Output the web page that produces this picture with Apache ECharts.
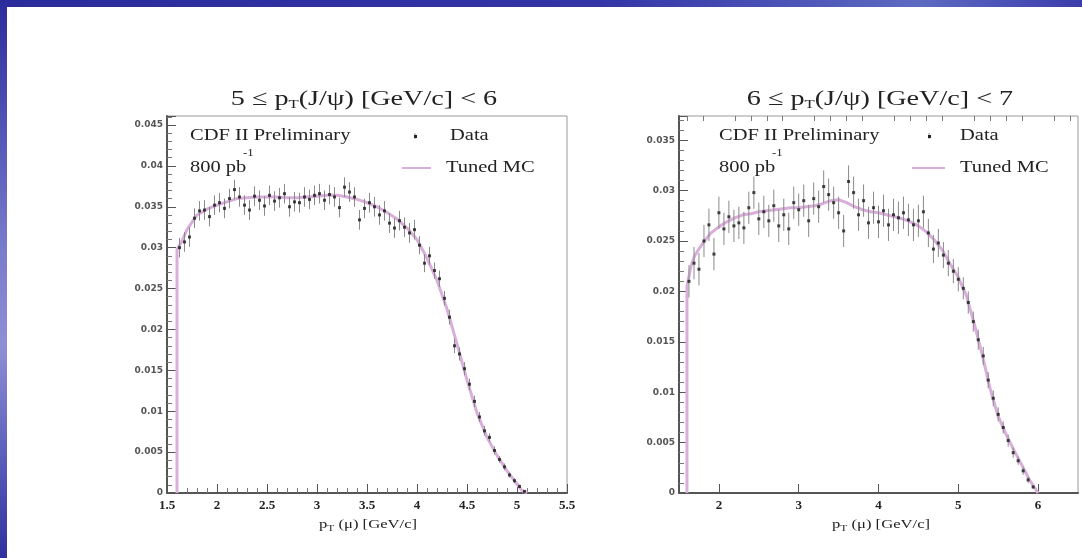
<!DOCTYPE html>
<html><head><meta charset="utf-8">
<script src="https://cdn.jsdelivr.net/npm/echarts@6/dist/echarts.min.js"></script>
<style>html,body{margin:0;padding:0;background:#fff}#c{width:1082px;height:558px}</style>
</head><body><div id="c"></div>
<script>
// ---------- data ----------
const panelTitles = ['{a|5 ≤ p}{s|T}{a|(J/ψ) [GeV/c] < 6}', '{a|6 ≤ p}{s|T}{a|(J/ψ) [GeV/c] < 7}'];
const xTitle = '{a|p}{s|T}{a| (μ) [GeV/c]}';
const legendTexts = ['CDF II Preliminary', '800 pb', '-1', 'Data', 'Tuned MC'];

const leftDataX = [1.625,1.675,1.725,1.775,1.825,1.875,1.925,1.975,2.025,2.075,2.125,2.175,2.225,2.275,2.325,2.375,2.425,2.475,2.525,2.575,2.625,2.675,2.725,2.775,2.825,2.875,2.925,2.975,3.025,3.075,3.125,3.175,3.225,3.275,3.325,3.375,3.425,3.475,3.525,3.575,3.625,3.675,3.725,3.775,3.825,3.875,3.925,3.975,4.025,4.075,4.125,4.175,4.225,4.275,4.325,4.375,4.425,4.475,4.525,4.575,4.625,4.675,4.725,4.775,4.825,4.875,4.925,4.975,5.025,5.075];
const leftDataY = [0.0300,0.0307,0.0313,0.0336,0.0345,0.0346,0.0338,0.0352,0.0355,0.0348,
 0.0360,0.0371,0.0362,0.0352,0.0346,0.0363,0.0358,0.0351,0.0364,0.0357,
 0.0361,0.0366,0.0350,0.0356,0.0355,0.0362,0.0359,0.0364,0.0366,0.0358,
 0.0365,0.0362,0.0349,0.0374,0.0368,0.0362,0.0334,0.0348,0.0355,0.0350,
 0.0340,0.0345,0.0330,0.0324,0.0333,0.0325,0.0318,0.0322,0.0303,0.0281,
 0.0290,0.0272,0.0262,0.0238,0.0215,0.0180,0.0170,0.0152,0.0133,0.0112,
 0.0093,0.0076,0.0068,0.0052,0.0041,0.0032,0.0022,0.0015,0.0008,0.0002];
const leftDataErr = [0.0012,0.0012,0.0012,0.0012,0.0012,0.0012,0.0012,0.0012,0.0012,0.0012,
 0.0012,0.0012,0.0012,0.0012,0.0012,0.0012,0.0012,0.0012,0.0012,0.0012,
 0.0012,0.0012,0.0012,0.0012,0.0012,0.0012,0.0012,0.0012,0.0012,0.0012,
 0.0012,0.0012,0.0012,0.0012,0.0012,0.0012,0.0012,0.0012,0.0012,0.0012,
 0.0012,0.0012,0.0012,0.0012,0.0012,0.0012,0.0012,0.0012,0.0011,0.0011,
 0.0011,0.0010,0.0010,0.0009,0.0009,0.0009,0.0008,0.0008,0.0007,0.0007,
 0.0006,0.0006,0.0005,0.0005,0.0004,0.0004,0.0003,0.0003,0.0002,0.0001];
const leftMcX = [1.6,1.6,1.65,1.7,1.8,1.9,2.0,2.1,2.2,2.3,2.4,2.5,2.6,2.7,2.8,2.9,3.0,3.1,3.2,3.3,3.4,3.5,3.6,3.7,3.8,3.9,4.0,4.1,4.2,4.3,4.4,4.5,4.6,4.7,4.8,4.9,5.0,5.05,5.1];
const leftMcY = [0,0.0298,0.0308,0.0322,0.0340,0.0347,0.0352,0.0356,0.0360,0.0361,0.0362,0.0362,0.0362,0.0361,0.0361,0.0362,0.0363,0.0364,0.0364,0.0362,0.0359,0.0355,0.0350,0.0343,0.0335,0.0324,0.0310,0.0287,0.0260,0.0225,0.0182,0.0138,0.0098,0.0068,0.0046,0.0027,0.0011,0.0003,0];

const rightDataX = [1.625,1.688,1.75,1.813,1.875,1.938,2.0,2.063,2.125,2.188,2.25,2.313,2.375,2.438,2.5,2.563,2.625,2.688,2.75,2.813,2.875,2.938,3.0,3.063,3.125,3.188,3.25,3.313,3.375,3.438,3.5,3.563,3.625,3.688,3.75,3.813,3.875,3.938,4.0,4.063,4.125,4.188,4.25,4.313,4.375,4.438,4.5,4.563,4.625,4.688,4.75,4.813,4.875,4.938,5.0,5.063,5.125,5.188,5.25,5.313,5.375,5.438,5.5,5.563,5.625,5.688,5.75,5.813,5.875,5.938];
const rightDataY = [0.0210,0.0228,0.0222,0.0250,0.0266,0.0237,0.0278,0.0262,0.0274,0.0265,
 0.0268,0.0263,0.0283,0.0298,0.0272,0.0279,0.0270,0.0285,0.0265,0.0276,
 0.0262,0.0288,0.0281,0.0290,0.0270,0.0292,0.0284,0.0304,0.0296,0.0288,
 0.0278,0.0260,0.0309,0.0298,0.0276,0.0290,0.0268,0.0283,0.0269,0.0280,
 0.0266,0.0276,0.0273,0.0278,0.0271,0.0266,0.0270,0.0279,0.0258,0.0242,
 0.0248,0.0236,0.0228,0.0220,0.0212,0.0203,0.0189,0.0170,0.0152,0.0136,
 0.0112,0.0094,0.0078,0.0065,0.0052,0.0040,0.0032,0.0022,0.0013,0.0006];
const rightDataErr = [0.0016,0.0016,0.0016,0.0016,0.0016,0.0016,0.0016,0.0016,0.0016,0.0016,
 0.0016,0.0016,0.0016,0.0016,0.0016,0.0016,0.0016,0.0016,0.0016,0.0016,
 0.0016,0.0016,0.0016,0.0016,0.0016,0.0016,0.0016,0.0016,0.0016,0.0016,
 0.0016,0.0016,0.0016,0.0016,0.0016,0.0016,0.0016,0.0016,0.0016,0.0016,
 0.0016,0.0016,0.0016,0.0016,0.0016,0.0016,0.0016,0.0016,0.0014,0.0014,
 0.0014,0.0013,0.0013,0.0012,0.0012,0.0011,0.0011,0.0010,0.0010,0.0009,
 0.0008,0.0008,0.0007,0.0006,0.0006,0.0005,0.0004,0.0004,0.0003,0.0002];
const rightMcX = [1.6,1.6,1.65,1.7,1.8,1.9,2.0,2.1,2.2,2.3,2.4,2.5,2.6,2.7,2.8,2.9,3.0,3.1,3.2,3.3,3.4,3.5,3.6,3.7,3.8,3.9,4.0,4.1,4.2,4.3,4.4,4.5,4.6,4.7,4.8,4.9,5.0,5.1,5.2,5.3,5.4,5.5,5.6,5.7,5.8,5.9,6.0];
const rightMcY = [0,0.0205,0.0225,0.0236,0.0248,0.0258,0.0264,0.0269,0.0273,0.0276,0.0277,0.0279,0.0280,0.0281,0.0282,0.0283,0.0283,0.0284,0.0285,0.0287,0.0290,0.0291,0.0288,0.0284,0.0281,0.0279,0.0278,0.0276,0.0274,0.0272,0.0269,0.0265,0.0259,0.0251,0.0241,0.0227,0.0214,0.0196,0.0168,0.0137,0.0103,0.0076,0.0058,0.0042,0.0027,0.0012,0];

const rightXMajor = [2,3,4,5,6];
const rightXMinor = [1.6,1.8,2.2,2.4,2.6,2.8,3.2,3.4,3.6,3.8,4.2,4.4,4.6,4.8,5.2,5.4,5.6,5.8,6.2,6.4];

// ---------- styling ----------
const SERIF = "'Liberation Serif', 'DejaVu Serif', serif";
const AX = '#555';
const MC_COLOR = '#d9aedb';
const STRETCH = 1.28;

function yAxisCfg(grid, max) {
  return {
    type: 'value', gridIndex: grid, min: 0, max: max, interval: 0.005,
    axisLine: {show: true, lineStyle: {color: AX, width: 2}},
    axisTick: {show: true, inside: true, length: 9, lineStyle: {color: AX, width: 1}},
    minorTick: {show: true, splitNumber: 5, length: 5, lineStyle: {color: '#777'}},
    splitLine: {show: false},
    axisLabel: {fontSize: 9, fontWeight: 'bold', color: '#555', margin: 4, fontFamily: 'DejaVu Sans',
      showMaxLabel: false,
      formatter: v => String(parseFloat(Number(v).toFixed(4)))}
  };
}
const xLabel = {fontSize: 13, color: '#222', margin: 6, fontFamily: SERIF, fontWeight: 'bold'};

function errSeries(xi, yi, xs, ys, es) {
  return {
    type: 'custom', xAxisIndex: xi, yAxisIndex: yi, z: 3,
    data: xs.map((x, i) => [x, ys[i] - es[i], ys[i] + es[i]]),
    renderItem: (params, api) => {
      const a = api.coord([api.value(0), api.value(1)]);
      const b = api.coord([api.value(0), api.value(2)]);
      return {type: 'line', shape: {x1: a[0], y1: a[1], x2: b[0], y2: b[1]},
        style: {stroke: '#8a8a8a', lineWidth: 1}};
    }
  };
}
function dotSeries(xi, yi, xs, ys) {
  return {type: 'scatter', xAxisIndex: xi, yAxisIndex: yi, z: 4, symbol: 'rect', symbolSize: 3,
    itemStyle: {color: '#1a1a1a'}, data: xs.map((x, i) => [x, ys[i]])};
}
function mcSeries(xi, yi, xs, ys) {
  return {type: 'line', xAxisIndex: xi, yAxisIndex: yi, z: 2, showSymbol: false, symbol: 'none',
    lineStyle: {color: MC_COLOR, width: 3}, data: xs.map((x, i) => [x, ys[i]])};
}

function txt(x, y, text, size, align, extra) {
  return Object.assign({
    type: 'text', x: x, y: y, scaleX: STRETCH, z: 10,
    style: {text: text, font: size + 'px ' + SERIF, fill: '#222', align: align || 'left', verticalAlign: 'middle'}
  }, extra || {});
}
function richTxt(x, y, text, size, subSize) {
  return {
    type: 'text', x: x, y: y, scaleX: STRETCH, z: 10,
    style: {text: text, align: 'center', verticalAlign: 'middle', fill: '#222',
      rich: {a: {fontFamily: SERIF, fontSize: size, fill: '#222'},
             s: {fontFamily: SERIF, fontSize: subSize, fill: '#222', padding: [Math.round(size*0.55), 0, 0, 0]}}}
  };
}

const graphics = [
  {type: 'rect', shape: {x: 0, y: 0, width: 1082, height: 7}, z: 0,
    style: {fill: new echarts.graphic.LinearGradient(0, 0, 1, 0, [
      {offset: 0, color: '#2b2b9c'}, {offset: 0.55, color: '#3434a6'}, {offset: 0.85, color: '#5d6ac2'}, {offset: 1, color: '#3c3cab'}])}},
  {type: 'rect', shape: {x: 0, y: 0, width: 7, height: 558}, z: 0,
    style: {fill: new echarts.graphic.LinearGradient(0, 0, 0, 1, [
      {offset: 0, color: '#2b2b9c'}, {offset: 0.45, color: '#7a7ccc'}, {offset: 0.62, color: '#8d8fd6'}, {offset: 1, color: '#30309f'}])}},
  richTxt(364, 99, panelTitles[0], 22, 13),
  richTxt(880, 99, panelTitles[1], 22, 13),
  richTxt(368, 525, xTitle, 13, 9),
  richTxt(881, 525, xTitle, 13, 9),
  // left legend
  txt(190, 136, legendTexts[0], 16),
  txt(190, 168, legendTexts[1], 16),
  txt(243, 153, legendTexts[2], 10),
  txt(450, 136, legendTexts[3], 16),
  txt(446, 168, legendTexts[4], 16),
  {type: 'line', shape: {x1: 415, y1: 133, x2: 415, y2: 139}, style: {stroke: '#999', lineWidth: 1}},
  {type: 'rect', shape: {x: 414, y: 135, width: 3, height: 3}, style: {fill: '#222'}},
  {type: 'line', shape: {x1: 402, y1: 168, x2: 431, y2: 168}, style: {stroke: MC_COLOR, lineWidth: 2}},
  // right legend
  txt(719, 136, legendTexts[0], 16),
  txt(719, 168, legendTexts[1], 16),
  txt(772, 153, legendTexts[2], 10),
  txt(960, 136, legendTexts[3], 16),
  txt(960, 168, legendTexts[4], 16),
  {type: 'line', shape: {x1: 929, y1: 133, x2: 929, y2: 139}, style: {stroke: '#999', lineWidth: 1}},
  {type: 'rect', shape: {x: 928, y: 135, width: 3, height: 3}, style: {fill: '#222'}},
  {type: 'line', shape: {x1: 912, y1: 168, x2: 945, y2: 168}, style: {stroke: MC_COLOR, lineWidth: 2}}
];

const option = {
  backgroundColor: '#ffffff',
  animation: false,
  grid: [
    {left: 167, top: 116, width: 400, height: 377, show: true, borderColor: '#9a9a9a', borderWidth: 1, backgroundColor: 'transparent'},
    {left: 679, top: 116, width: 399, height: 377, show: true, borderColor: '#9a9a9a', borderWidth: 1, backgroundColor: 'transparent'}
  ],
  xAxis: [
    {type: 'value', gridIndex: 0, min: 1.5, max: 5.5, interval: 0.5,
      axisLine: {onZero: false, lineStyle: {color: AX, width: 2}},
      axisTick: {inside: true, length: 9, lineStyle: {color: AX}},
      minorTick: {show: true, splitNumber: 5, length: 5, lineStyle: {color: '#777'}},
      splitLine: {show: false}, axisLabel: Object.assign({}, xLabel, {formatter: v => String(v)})},
    {type: 'value', gridIndex: 1, min: 1.5, max: 6.5,
      axisLine: {onZero: false, lineStyle: {color: AX, width: 2}},
      axisTick: {inside: true, length: 9, lineStyle: {color: AX}, customValues: rightXMajor},
      splitLine: {show: false}, axisLabel: Object.assign({}, xLabel, {customValues: rightXMajor})},
    {type: 'value', gridIndex: 1, min: 1.5, max: 6.5,
      axisLine: {show: false, onZero: false},
      axisTick: {inside: true, length: 5, lineStyle: {color: '#777'}, customValues: rightXMinor},
      splitLine: {show: false}, axisLabel: {show: false}}
  ],
  yAxis: [yAxisCfg(0, 0.0461), yAxisCfg(1, 0.0374)],
  series: [
    mcSeries(0, 0, leftMcX, leftMcY),
    errSeries(0, 0, leftDataX, leftDataY, leftDataErr),
    dotSeries(0, 0, leftDataX, leftDataY),
    mcSeries(1, 1, rightMcX, rightMcY),
    errSeries(1, 1, rightDataX, rightDataY, rightDataErr),
    dotSeries(1, 1, rightDataX, rightDataY)
  ],
  graphic: graphics
};
const chart = echarts.init(document.getElementById('c'), null, {renderer: 'canvas'});
chart.setOption(option);
</script>
</body></html>
